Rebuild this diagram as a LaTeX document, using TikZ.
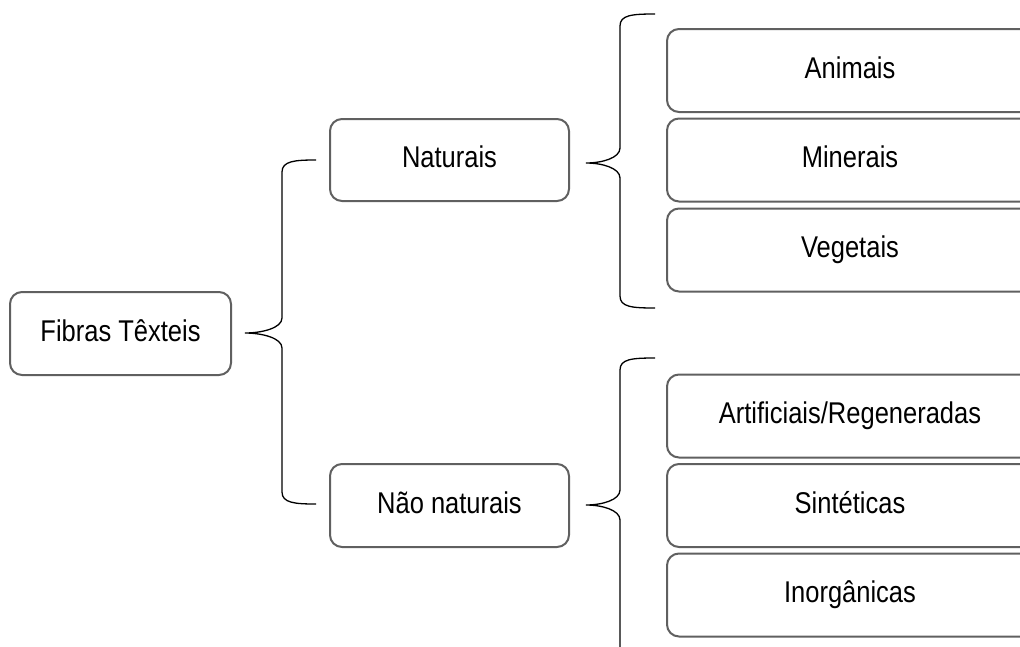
\documentclass[tikz,border=0pt]{standalone}
\usepackage{fontspec}
\setmainfont[FakeStretch=0.85]{Liberation Sans}
\definecolor{boxgray}{HTML}{606060}
\begin{document}
\begin{tikzpicture}[x=1pt,y=-1pt,
  box/.style={draw=boxgray, line width=2pt, rounded corners=12pt, inner sep=0pt,
    text height=21.5pt, text depth=6.5pt, font=\fontsize{30}{36}\selectfont},
  wide/.style={box, minimum width=366pt, minimum height=83pt},
  brace/.style={draw=black, line width=1.3pt}]
\useasboundingbox (0,0) rectangle (1020,646);
\clip (0,0) rectangle (1020,646);
% nodes
\node[box, minimum width=221pt, minimum height=83pt] (fib) at (120.5,333.5) {Fibras Têxteis};
\node[box, minimum width=239pt, minimum height=82pt] (nat) at (449.5,160) {Naturais};
\node[box, minimum width=239pt, minimum height=83pt] (nn) at (449.5,505.5) {Não naturais};
\node[wide] (ani) at (850,70.5) {Animais};
\node[wide] (min) at (850,160) {Minerais};
\node[wide] (veg) at (850,250) {Vegetais};
\node[wide] (art) at (850,416) {Artificiais/Regeneradas};
\node[wide] (sin) at (850,505.5) {Sintéticas};
\node[wide] (ino) at (850,595) {Inorgânicas};
% brace coordinates
\coordinate (b1tip) at (245,333);
\coordinate (b1top) at (316,160);
\coordinate (b1bot) at (316,504);
\coordinate (b2tip) at (586,163);
\coordinate (b2top) at (655,14);
\coordinate (b2bot) at (655,308);
\coordinate (b3tip) at (586,505);
\coordinate (b3top) at (655,358);
\coordinate (b3bot) at (655,690);
% brace 1
\draw[brace] (b1top) .. controls (295,160) and (282,161) .. (282,172) -- (282,318)
  .. controls (282,328) and (262,333) .. (b1tip)
  .. controls (262,333) and (282,338) .. (282,348) -- (282,492)
  .. controls (282,503) and (295,504) .. (b1bot);
% brace 2
\draw[brace] (b2top) .. controls (632,14) and (620,15) .. (620,26) -- (620,148)
  .. controls (620,158) and (602,163) .. (b2tip)
  .. controls (602,163) and (620,168) .. (620,178) -- (620,296)
  .. controls (620,307) and (632,308) .. (b2bot);
% brace 3
\draw[brace] (b3top) .. controls (632,358) and (620,359) .. (620,370) -- (620,490)
  .. controls (620,500) and (602,505) .. (b3tip)
  .. controls (602,505) and (620,510) .. (620,520) -- (620,678)
  .. controls (620,689) and (632,690) .. (b3bot);
\end{tikzpicture}
\end{document}
